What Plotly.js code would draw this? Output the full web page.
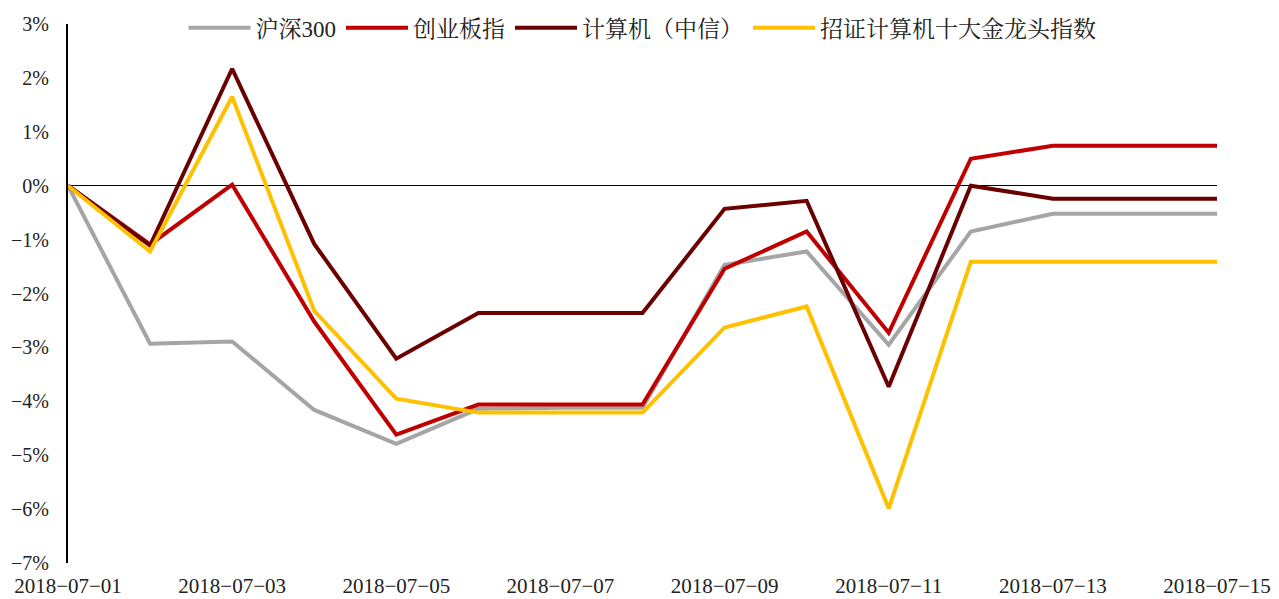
<!DOCTYPE html>
<html><head><meta charset="utf-8">
<script src="https://cdn.plot.ly/plotly-3.0.1.min.js"></script>
<style>html,body{margin:0;padding:0;background:#fff}#c{width:1279px;height:599px}</style>
</head><body><div id="c"></div>
<script>
const dates = ['2018-07-01','2018-07-02','2018-07-03','2018-07-04','2018-07-05','2018-07-06','2018-07-07','2018-07-08','2018-07-09','2018-07-10','2018-07-11','2018-07-12','2018-07-13','2018-07-14','2018-07-15'];
const hs300   = [0, -2.93, -2.89, -4.16, -4.79, -4.14, -4.12, -4.12, -1.47, -1.22, -2.95, -0.85, -0.52, -0.52, -0.52];
const cyb     = [0, -1.09, 0.02, -2.52, -4.62, -4.06, -4.06, -4.06, -1.54, -0.85, -2.73, 0.50, 0.74, 0.74, 0.74];
const jsj     = [0, -1.11, 2.17, -1.08, -3.21, -2.36, -2.36, -2.36, -0.43, -0.28, -3.73, 0.00, -0.24, -0.24, -0.24];
const zhaozheng = [0, -1.22, 1.65, -2.32, -3.95, -4.21, -4.21, -4.21, -2.63, -2.24, -5.99, -1.41, -1.41, -1.41, -1.41];
const names = ['沪深300','创业板指','计算机（中信）','招证计算机十大金龙头指数'];
const colors = ['#A5A5A5','#C00000','#6B0000','#FFC000'];
const series = [hs300, cyb, jsj, zhaozheng];
const font = 'Liberation Serif, "Noto Serif CJK SC", "Noto Sans CJK SC", serif';
const traces = series.map((s,i)=>({x:dates,y:s,name:names[i],type:'scatter',mode:'lines',line:{color:colors[i],width:4}}));
const layout = {
  width:1279,height:599,
  margin:{l:68,r:62,t:24,b:36,autoexpand:false},
  paper_bgcolor:'#fff',plot_bgcolor:'#fff',
  font:{family:font,size:20,color:'#222'},
  showlegend:true,
  legend:{orientation:'h',x:0.5,xanchor:'center',y:0.993,yanchor:'middle',font:{family:font,size:23,color:'#222'},bgcolor:'rgba(0,0,0,0)',itemwidth:62,tracegroupgap:0},
  xaxis:{type:'date',automargin:false,range:['2018-07-01','2018-07-15'],dtick:2*86400000,tick0:'2018-07-01',tickformat:'%Y\u2212%m\u2212%d',showgrid:false,zeroline:false,showline:false,ticks:'outside',ticklen:4,tickcolor:'rgba(0,0,0,0)',tickfont:{family:font,size:21,color:'#222'}},
  yaxis:{automargin:false,range:[-7,3],dtick:1,ticksuffix:'%',showgrid:false,zeroline:true,zerolinecolor:'#000',zerolinewidth:1.5,showline:true,linecolor:'#000',linewidth:2,ticks:'outside',ticklen:13,tickcolor:'rgba(0,0,0,0)',tickfont:{family:font,size:20,color:'#222'}}
};
Plotly.newPlot('c',traces,layout,{displayModeBar:false,staticPlot:true});
</script></body></html>
